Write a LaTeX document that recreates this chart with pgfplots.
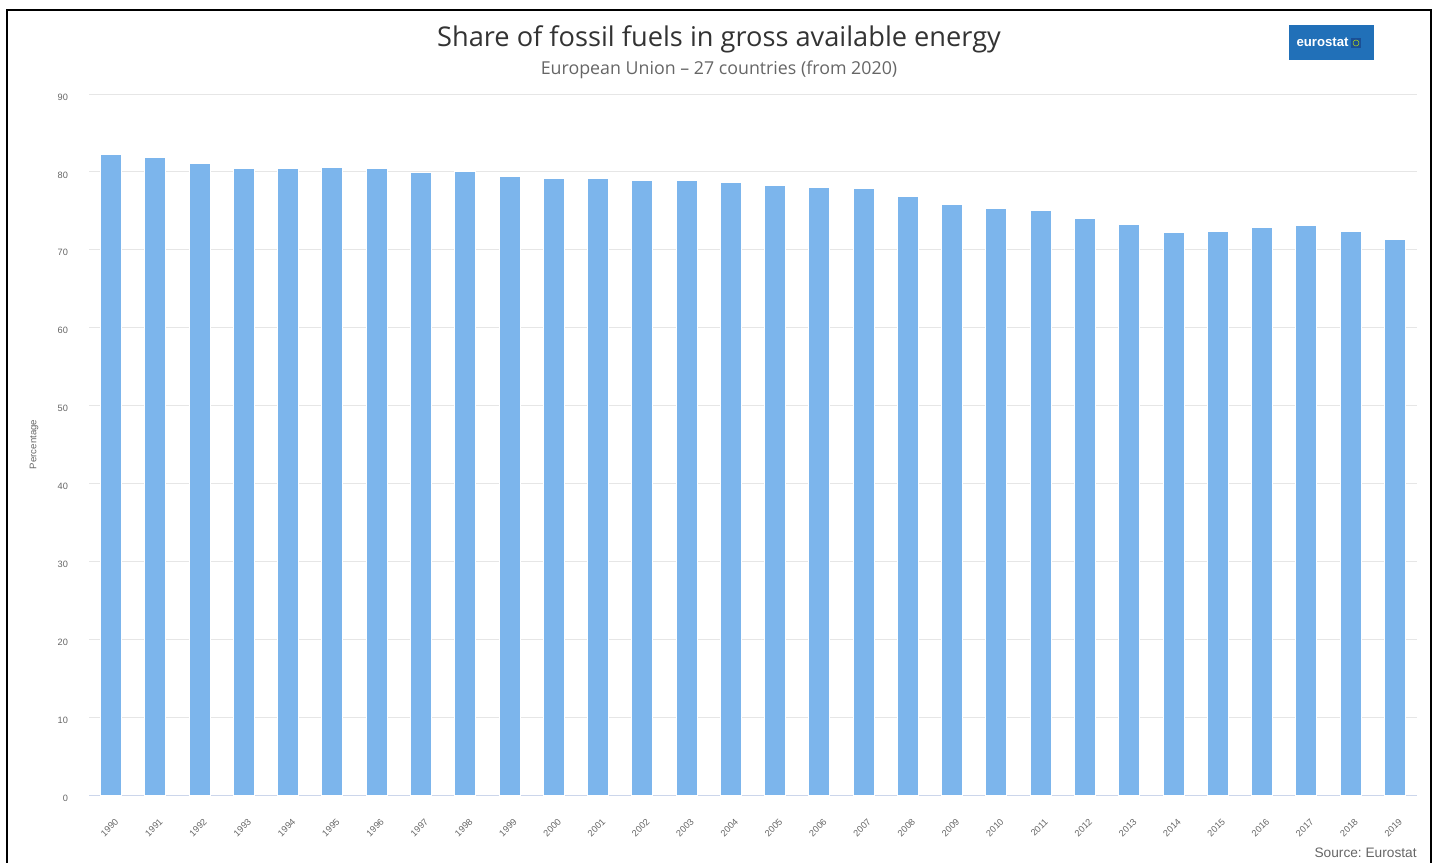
\documentclass[border=0pt]{standalone}
\usepackage{pgfplots}
\pgfplotsset{compat=1.18}
\usepackage{fontspec}
\setmainfont{Liberation Sans}
\newfontfamily\titlefont{Open Sans}
\frenchspacing
\definecolor{barblue}{HTML}{7CB5EC}
\definecolor{gridgray}{HTML}{E6E6E6}
\definecolor{axisline}{HTML}{CCD6EB}
\definecolor{labgray}{HTML}{666666}
\definecolor{titlegray}{HTML}{333333}
\definecolor{logoblue}{HTML}{2170B8}
\definecolor{flagblue}{HTML}{1A4F96}
\pgfplotstableread{
x year value
0 1990 82.2
1 1991 81.9
2 1992 81.1
3 1993 80.4
4 1994 80.4
5 1995 80.6
6 1996 80.4
7 1997 79.9
8 1998 80.1
9 1999 79.4
10 2000 79.1
11 2001 79.1
12 2002 78.9
13 2003 78.9
14 2004 78.6
15 2005 78.2
16 2006 78.0
17 2007 77.9
18 2008 76.9
19 2009 75.8
20 2010 75.3
21 2011 75.1
22 2012 74.0
23 2013 73.3
24 2014 72.2
25 2015 72.4
26 2016 72.9
27 2017 73.1
28 2018 72.4
29 2019 71.3
}\datatable
\begin{document}
\begin{tikzpicture}
\begin{scope}[x=0.5pt,y=0.5pt]
\useasboundingbox (0,0) rectangle (1439,862);
\draw[line width=1.3pt] (7,-10) -- (7,852) -- (1431,852) -- (1431,-10);
\node[font=\titlefont\fontsize{13.6}{15}\selectfont, text=titlegray] at (719,823) {Share of fossil fuels in gross available energy};
\node[font=\titlefont\fontsize{8.9}{10}\selectfont, text=labgray] at (719,792) {European Union – 27 countries (from 2020)};
\fill[logoblue] (1289,802) rectangle (1374,837);
\node[font=\bfseries\fontsize{6.6}{8}\selectfont, text=white, anchor=east, inner sep=0pt] at (1349,819.5) {eurostat};
\fill[flagblue] (1351,814) rectangle (1361,824);
\draw[yellow!70!green, line width=0.25pt] (1356,819) circle (3);
\node[font=\fontsize{6.85}{8}\selectfont, text=labgray, anchor=east, inner sep=0pt] at (1417,9) {Source: Eurostat};
\node[font=\fontsize{4.8}{6}\selectfont, text=labgray, rotate=90] at (34,417.5) {Percentage};
\end{scope}
\begin{axis}[
  at={(44.5pt,33.5pt)}, anchor=south west,
  scale only axis, width=664pt, height=350.5pt,
  xmin=-0.5, xmax=29.5, ymin=0, ymax=90,
  ytick={0,10,...,90},
  xtick=data,
  xticklabels={1990,1991,1992,1993,1994,1995,1996,1997,1998,1999,2000,2001,2002,2003,2004,2005,2006,2007,2008,2009,2010,2011,2012,2013,2014,2015,2016,2017,2018,2019},
  ymajorgrids, major grid style={gridgray, line width=0.5pt},
  axis x line*=bottom, axis y line*=left,
  x axis line style={axisline, line width=0.5pt, -},
  y axis line style={draw=none},
  major tick length=0pt,
  tick label style={font=\fontsize{4.6}{5.5}\selectfont, text=labgray},
  yticklabel style={anchor=east, xshift=-7pt, yshift=-1.5pt},
  xticklabel style={rotate=45, anchor=east, xshift=-3.5pt, yshift=-11pt},
  /pgf/number format/assume math mode=true,
  clip=false,
]
\addplot[ybar, bar width=10.5pt, fill=barblue, draw=white, line width=0.5pt] table[x=x, y=value] {\datatable};
\end{axis}
\end{tikzpicture}
\end{document}
